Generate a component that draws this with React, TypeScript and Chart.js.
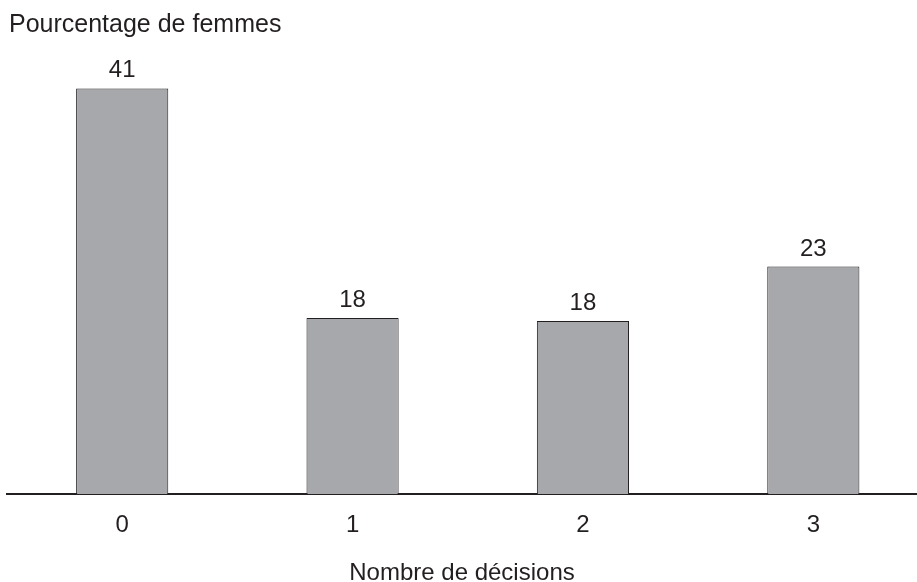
import React, { useEffect, useRef } from "react";
import { Chart, registerables } from "chart.js";

Chart.register(...registerables);

const categories = [0, 1, 2, 3];
const values = [41, 17.8, 17.5, 23.0];
const valueLabels = ["41", "18", "18", "23"];
const yTitle = "Pourcentage de femmes";
const xTitle = "Nombre de décisions";

const FONT = "'Liberation Sans', Arial, Helvetica, sans-serif";
const INK = "#231f20";

const overlayPlugin = {
  id: "overlayText",
  afterDatasetsDraw(chart: any) {
    const { ctx } = chart;
    ctx.save();
    ctx.fillStyle = INK;
    ctx.font = `24px ${FONT}`;
    ctx.textAlign = "center";
    ctx.textBaseline = "alphabetic";
    const meta = chart.getDatasetMeta(0);
    meta.data.forEach((bar: any, i: number) => {
      ctx.fillText(valueLabels[i], bar.x, bar.y - 11);
    });
    ctx.textAlign = "left";
    ctx.font = `25px ${FONT}`;
    ctx.fillText(yTitle, 9, 32);
    ctx.restore();
  },
};

export default function App() {
  const ref = useRef<HTMLCanvasElement | null>(null);
  useEffect(() => {
    if (!ref.current) return;
    const chart = new Chart(ref.current, {
      type: "bar",
      data: {
        datasets: [
          {
            data: categories.map((c, i) => ({ x: c, y: values[i] })),
            backgroundColor: "#a7a8ab",
            borderColor: INK,
            borderWidth: 1,
            barPercentage: 0.4,
            categoryPercentage: 1,
          },
        ],
      },
      options: {
        animation: false,
        responsive: false,
        devicePixelRatio: 1,
        layout: { padding: { left: 7, right: 0, top: 39, bottom: 0 } },
        plugins: {
          legend: { display: false },
          tooltip: { enabled: false },
          title: { display: false },
        },
        scales: {
          x: {
            type: "linear",
            min: -0.5,
            max: 3.45,
            offset: false,
            z: 1,
            grid: { display: false, drawTicks: false, offset: false },
            border: { display: true, color: INK, width: 2 },
            afterBuildTicks: (scale: any) => {
              scale.ticks = categories.map((v) => ({ value: v }));
            },
            afterFit: (scale: any) => {
              scale.height = 88;
            },
            ticks: {
              padding: 17,
              color: INK,
              font: { family: FONT, size: 24 },
              callback: (v: any) => String(v),
            },
            title: {
              display: true,
              text: xTitle,
              color: INK,
              font: { family: FONT, size: 24, lineHeight: 0.75 },
              padding: { top: 0, bottom: 0 },
            },
          },
          y: {
            display: false,
            min: 0,
            max: 46,
          },
        },
      },
      plugins: [overlayPlugin],
    });
    return () => chart.destroy();
  }, []);
  return (
    <div style={{ position: "absolute", left: 0, top: 0, width: 917, height: 582, background: "#fff" }}>
      <canvas ref={ref} width={917} height={582} />
    </div>
  );
}
